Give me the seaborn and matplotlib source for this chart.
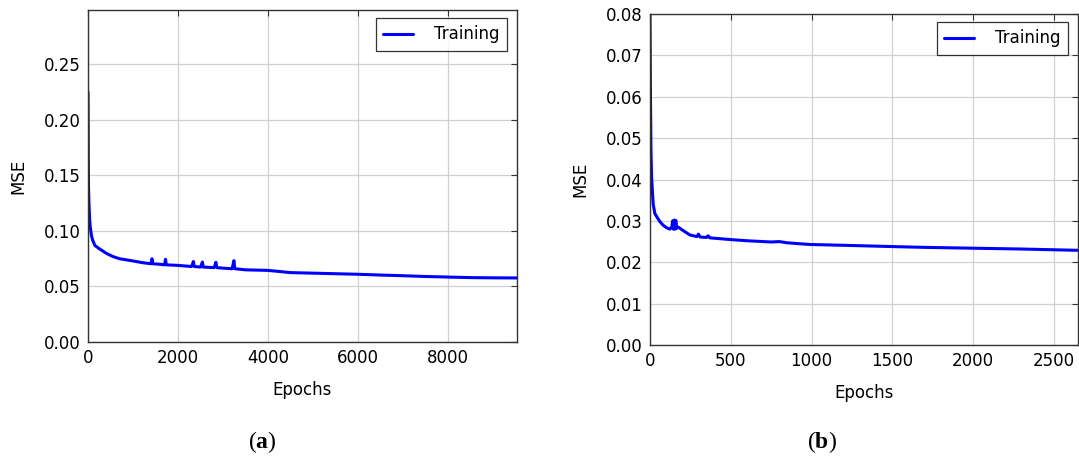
import matplotlib
matplotlib.use("Agg")
import matplotlib.pyplot as plt
import seaborn as sns
import pandas as pd

# ---- data (a) ----
epochs_a = [0, 5, 10, 20, 35, 50, 75, 100, 150, 250, 400, 550, 700, 850, 1000, 1200,
            1400, 1420, 1440, 1600, 1700, 1720, 1740, 2000, 2300, 2340, 2360, 2500,
            2540, 2560, 2800, 2840, 2860, 3000, 3200, 3240, 3260, 3500, 4000, 4500,
            5000, 5500, 6000, 6500, 7000, 7500, 8000, 8500, 9000, 9530]
mse_a = [0.225, 0.17, 0.14, 0.125, 0.11, 0.103, 0.096, 0.092, 0.087, 0.084, 0.080,
         0.077, 0.075, 0.074, 0.073, 0.0715, 0.0705, 0.075, 0.0705, 0.070, 0.0695,
         0.0745, 0.0695, 0.069, 0.068, 0.0725, 0.068, 0.0675, 0.072, 0.0675, 0.067,
         0.0718, 0.067, 0.0665, 0.066, 0.0733, 0.066, 0.065, 0.0645, 0.0625, 0.062,
         0.0615, 0.061, 0.0603, 0.0597, 0.059, 0.0585, 0.058, 0.0578, 0.0577]

# ---- data (b) ----
epochs_b = [0, 3, 6, 10, 15, 20, 30, 45, 62, 80, 100, 123, 135, 140, 145, 150, 155, 160,
            165, 175, 200, 247, 290, 300, 310, 350, 360, 370, 494, 600, 750, 800, 850,
            988, 1200, 1492, 1700, 1996, 2300, 2634, 2650]
mse_b = [0.080, 0.060, 0.047, 0.0405, 0.037, 0.034, 0.0318, 0.0308, 0.0298, 0.029,
         0.0284, 0.028, 0.0285, 0.030, 0.028, 0.0302, 0.028, 0.0301, 0.0282, 0.0285,
         0.0278, 0.0266, 0.0262, 0.0268, 0.0261, 0.026, 0.0264, 0.0259, 0.0255,
         0.0252, 0.0249, 0.0250, 0.0247, 0.0243, 0.0241, 0.0238, 0.0236, 0.0234,
         0.0232, 0.0229, 0.0229]

df_a = pd.DataFrame({"Epochs": epochs_a, "MSE": mse_a})
df_b = pd.DataFrame({"Epochs": epochs_b, "MSE": mse_b})

sns.set_theme(style="whitegrid")
plt.rcParams["font.family"] = ["DejaVu Sans"]
plt.rcParams.update({
    "text.color": "black",
    "axes.labelcolor": "black",
    "axes.edgecolor": "#333333",
    "axes.linewidth": 1.0,
    "grid.color": "#d0d0d0",
    "grid.linewidth": 0.9,
    "xtick.direction": "in",
    "ytick.direction": "in",
    "xtick.top": True,
    "ytick.right": True,
    "xtick.major.size": 4,
    "ytick.major.size": 4,
    "xtick.color": "#333333",
    "ytick.color": "#333333",
    "xtick.labelcolor": "black",
    "ytick.labelcolor": "black",
    "mathtext.fontset": "custom",
    "mathtext.bf": "Liberation Serif:bold",
    "mathtext.rm": "Liberation Serif",
})

fig = plt.figure(figsize=(10.79, 4.61), dpi=100)
ax1 = fig.add_axes([0.0816, 0.2581, 0.3976, 0.7202])
ax2 = fig.add_axes([0.6024, 0.2516, 0.3967, 0.7180])

for ax, df, xlim, ylim, xt, yt in [
    (ax1, df_a, (0, 9530), (0, 0.299), [0, 2000, 4000, 6000, 8000],
     [0.0, 0.05, 0.10, 0.15, 0.20, 0.25]),
    (ax2, df_b, (0, 2650), (0, 0.08), [0, 500, 1000, 1500, 2000, 2500],
     [0.0, 0.01, 0.02, 0.03, 0.04, 0.05, 0.06, 0.07, 0.08]),
]:
    sns.lineplot(data=df, x="Epochs", y="MSE", ax=ax, color="#0000ff",
                 linewidth=2.2, label="Training")
    ax.set_xlim(*xlim)
    ax.set_ylim(*ylim)
    ax.set_xticks(xt)
    ax.set_yticks(yt)
    ax.set_yticklabels(["{:.2f}".format(v) for v in yt])
    ax.tick_params(labelsize=12, pad=5, width=0.8)
    ax.set_xlabel("Epochs", fontsize=12, labelpad=10)
    ax.set_ylabel("MSE", fontsize=12, labelpad=12)
    for s in ax.spines.values():
        s.set_visible(True)
        s.set_color("#333333")
    ax.grid(True, color="#d0d0d0", linewidth=0.9)
    leg = ax.legend(loc="upper right", fontsize=12, frameon=True, fancybox=False,
                    handlelength=1.8, borderpad=0.45, handletextpad=1.25,
                    borderaxespad=0.0, bbox_to_anchor=(0.977, 0.976))
    leg.get_frame().set_edgecolor("black")
    leg.get_frame().set_linewidth(0.9)

fig.text(262 / 1079, 1 - 442 / 461, r"($\mathbf{a}$)", ha="center", va="center",
         fontsize=17, family="Liberation Serif")
fig.text(822 / 1079, 1 - 442 / 461, r"($\mathbf{b}$)", ha="center", va="center",
         fontsize=17, family="Liberation Serif")

fig.savefig("out.png", dpi=100)
